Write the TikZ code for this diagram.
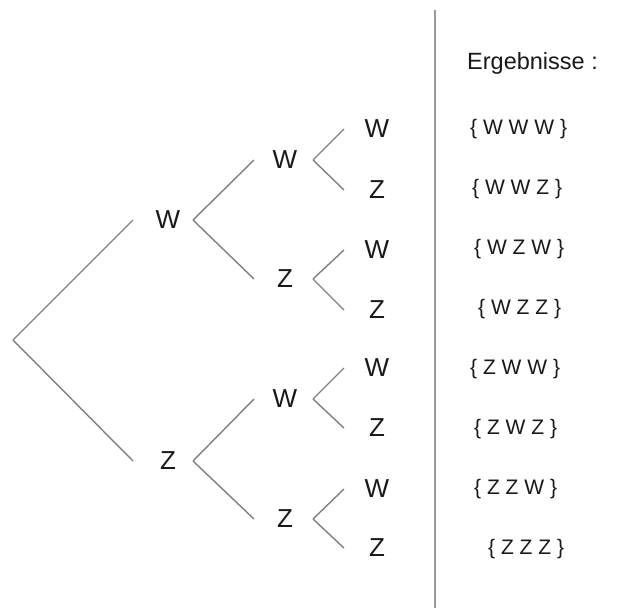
\documentclass[tikz,border=0pt]{standalone}
\usepackage{fontspec}
\setmainfont{Liberation Sans}
\begin{document}
\begin{tikzpicture}[x=1pt,y=-1pt,
  lab/.style={inner sep=0pt,text=black!90,font=\fontsize{26}{30}\selectfont},
  res/.style={inner sep=0pt,anchor=west,text=black!90,font=\fontsize{21}{25}\selectfont},
  br/.style={draw=black!50,line width=1.4pt}]
\useasboundingbox[fill=white] (0,0) rectangle (627,608);
% root
\coordinate (r) at (13,340);
% level 1
\node[lab] (a) at (168,220) {W};
\node[lab] (b) at (168,461) {Z};
% level 2
\node[lab] (aa) at (285,160) {W};
\node[lab] (ab) at (285,279) {Z};
\node[lab] (ba) at (285,399) {W};
\node[lab] (bb) at (285,519) {Z};
% leaves
\node[lab] (aaa) at (377,129) {W};
\node[lab] (aab) at (377,190) {Z};
\node[lab] (aba) at (377,250) {W};
\node[lab] (abb) at (377,310) {Z};
\node[lab] (baa) at (377,368) {W};
\node[lab] (bab) at (377,428) {Z};
\node[lab] (bba) at (377,489) {W};
\node[lab] (bbb) at (377,548) {Z};
% branches
\draw[br] (r) -- ([xshift=-35pt]a.center);
\draw[br] (r) -- ([xshift=-35pt]b.center);
\foreach \p/\c in {a/aa,a/ab,b/ba,b/bb}
  \draw[br] ([xshift=25pt]\p.center) -- ([xshift=-31pt]\c.center);
\foreach \p/\c in {aa/aaa,aa/aab,ab/aba,ab/abb,ba/baa,ba/bab,bb/bba,bb/bbb}
  \draw[br] ([xshift=28pt]\p.center) -- ([xshift=-33pt]\c.center);
% separator
\coordinate (s1) at (435,10);
\coordinate (s2) at (435,608);
\draw[draw=black!40,line width=2.6pt] (s1) -- (s2);
% results
\node[res,font=\fontsize{23.5}{28}\selectfont] (h) at (467,63) {Ergebnisse :};
\node[res] (r1) at (470,129) {\{ W W W \}};
\node[res] (r2) at (472,189) {\{ W W Z \}};
\node[res] (r3) at (474,249) {\{ W Z W \}};
\node[res] (r4) at (478,309) {\{ W Z Z \}};
\node[res] (r5) at (470,369) {\{ Z W W \}};
\node[res] (r6) at (474,429) {\{ Z W Z \}};
\node[res] (r7) at (474,489) {\{ Z Z W \}};
\node[res] (r8) at (488,549) {\{ Z Z Z \}};
\end{tikzpicture}
\end{document}
